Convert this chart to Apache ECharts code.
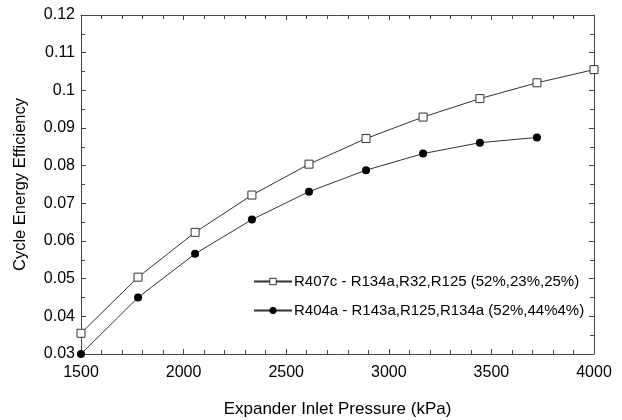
<!DOCTYPE html>
<html><head><meta charset="utf-8">
<script src="https://cdn.jsdelivr.net/npm/echarts@6/dist/echarts.min.js"></script>
<style>html,body{margin:0;padding:0;background:#fff}#c{width:622px;height:420px}</style>
</head><body><div id="c"></div>
<script>
const pressure407 = [1500, 1778, 2056, 2333, 2611, 2889, 3167, 3444, 3722, 4000];
const eff407 = [0.0355, 0.0504, 0.0623, 0.0722, 0.0804, 0.0872, 0.0929, 0.0978, 0.1020, 0.1055];
const pressure404 = [1500, 1778, 2056, 2333, 2611, 2889, 3167, 3444, 3722];
const eff404 = [0.0300, 0.0450, 0.0566, 0.0657, 0.0731, 0.0788, 0.0832, 0.0861, 0.0875];
const name407 = 'R407c - R134a,R32,R125 (52%,23%,25%)';
const name404 = 'R404a - R143a,R125,R134a (52%,44%4%)';
const xTitle = 'Expander Inlet Pressure (kPa)';
const yTitle = 'Cycle Energy Efficiency';

const font = 'Arial, "Liberation Sans", sans-serif';
const axisCol = '#444';
const chart = echarts.init(document.getElementById('c'));
const baseX = {
  type: 'value', min: 1500, max: 4000, interval: 500,
  axisLine: {show: true, onZero: false, lineStyle: {color: axisCol, width: 1}},
  axisTick: {show: true, inside: true, length: 5, lineStyle: {color: axisCol}},
  minorTick: {show: true, splitNumber: 5, length: 4, lineStyle: {color: axisCol}},
  splitLine: {show: false}
};
const baseY = {
  type: 'value', min: 0.03, max: 0.12, interval: 0.01,
  axisLine: {show: true, onZero: false, lineStyle: {color: axisCol, width: 1}},
  axisTick: {show: true, inside: true, length: 5, lineStyle: {color: axisCol}},
  minorTick: {show: true, splitNumber: 2, length: 4, lineStyle: {color: axisCol}},
  splitLine: {show: false}
};
chart.setOption({
  animation: false,
  backgroundColor: '#fff',
  grid: {left: 81, right: 28, top: 15, bottom: 66, containLabel: false, outerBoundsMode: 'none'},
  xAxis: [
    Object.assign({}, baseX, {position: 'bottom',
      name: xTitle, nameLocation: 'middle', nameGap: 47,
      nameTextStyle: {fontFamily: font, fontSize: 17, color: '#000'},
      axisLabel: {fontFamily: font, fontSize: 16, color: '#000', margin: 11,
        formatter: v => String(v)}}),
    Object.assign({}, baseX, {position: 'top', axisLabel: {show: false}})
  ],
  yAxis: [
    Object.assign({}, baseY, {position: 'left',
      name: yTitle, nameLocation: 'middle', nameGap: 52,
      nameTextStyle: {fontFamily: font, fontSize: 16.5, color: '#000'},
      axisLabel: {fontFamily: font, fontSize: 16, color: '#000', margin: 6,
        formatter: v => String(+v.toFixed(3))}}),
    Object.assign({}, baseY, {position: 'right', axisLabel: {show: false}})
  ],
  legend: {
    orient: 'vertical', left: 253, top: 274, padding: 0, itemWidth: 38, itemHeight: 8, itemGap: 14,
    textStyle: {fontFamily: font, fontSize: 15, color: '#000', padding: [0,0,0,-3]},
    itemStyle: {borderWidth: 1},
    data: [name407, name404]
  },
  series: [
    {name: name407, type: 'line', data: pressure407.map((p, i) => [p, eff407[i]]),
     symbol: 'rect', symbolSize: 8,
     lineStyle: {color: '#333', width: 1},
     itemStyle: {color: '#fff', borderColor: '#333', borderWidth: 1}},
    {name: name404, type: 'line', data: pressure404.map((p, i) => [p, eff404[i]]),
     symbol: 'circle', symbolSize: 8,
     lineStyle: {color: '#333', width: 1},
     itemStyle: {color: '#000', borderColor: '#000', borderWidth: 0}}
  ]
});
</script></body></html>
